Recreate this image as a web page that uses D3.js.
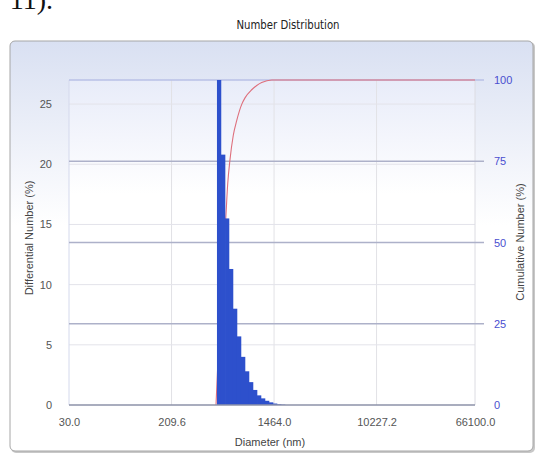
<!DOCTYPE html>
<html>
<head>
<meta charset="utf-8">
<script src="https://cdn.jsdelivr.net/npm/d3@7"></script>
<style>
  body { margin: 0; background: #fff; }
  svg { display: block; }
  .tick text { font-family: "Liberation Sans", Arial, sans-serif; }
</style>
</head>
<body>
<svg id="chart" width="538" height="453"></svg>
<script>
// values
var xTicks = [30.0, 209.6, 1464.0, 10227.2, 66100.0];
var xTickLabels = ["30.0", "209.6", "1464.0", "10227.2", "66100.0"];
var leftTicks = [0, 5, 10, 15, 20, 25];
var rightTicks = [0, 25, 50, 75, 100];

// histogram bins (nm) : lower edges + last upper edge
var binEdges = [496, 535, 578, 623, 672, 725, 782, 844, 910, 982, 1060, 1143, 1233, 1331, 1436, 1549, 1671, 1802];
var binValues = [27.0, 20.8, 15.5, 11.3, 8.0, 5.7, 4.0, 2.8, 1.9, 1.25, 0.8, 0.55, 0.35, 0.22, 0.12, 0.06, 0.03];

// cumulative curve
var cumSizes = [487, 506, 525, 551, 585, 608, 635, 676, 721, 793, 844, 958, 1054, 1158, 1400, 66100];
var cumValues = [0, 14, 30, 45, 57, 68, 75.5, 83, 87.5, 92.5, 94.5, 97, 98.3, 99.2, 100, 100];

var svg = d3.select("#chart");
var m = { left: 69, right: 475, top: 80, bottom: 405 };

var x = d3.scaleLog().domain([30, 66100]).range([m.left, m.right]);
var yL = d3.scaleLinear().domain([0, 27]).range([m.bottom, m.top]);
var yR = d3.scaleLinear().domain([0, 100]).range([m.bottom, m.top]);

var defs = svg.append("defs");
var g1 = defs.append("linearGradient").attr("id", "panelGrad")
  .attr("x1", 0).attr("y1", 0).attr("x2", 0).attr("y2", 1);
g1.append("stop").attr("offset", "0%").attr("stop-color", "#d9e0f2");
g1.append("stop").attr("offset", "45%").attr("stop-color", "#ffffff");
g1.append("stop").attr("offset", "100%").attr("stop-color", "#ffffff");
var g2 = defs.append("linearGradient").attr("id", "plotGrad")
  .attr("x1", 0).attr("y1", 0).attr("x2", 0).attr("y2", 1);
g2.append("stop").attr("offset", "0%").attr("stop-color", "#e8ecf9");
g2.append("stop").attr("offset", "35%").attr("stop-color", "#ffffff");
g2.append("stop").attr("offset", "100%").attr("stop-color", "#ffffff");

// bit of document text cut off at top (as in the source)
svg.append("text")
  .attr("x", 53).attr("y", 9)
  .attr("text-anchor", "end")
  .attr("font-family", "Liberation Serif, serif")
  .attr("font-size", 28)
  .attr("fill", "#111")
  .text("11).");

// title
svg.append("text")
  .attr("x", 288).attr("y", 29)
  .attr("text-anchor", "middle")
  .attr("font-family", "Liberation Sans Narrow, DejaVu Sans Condensed, sans-serif")
  .attr("font-size", 13)
  .attr("textLength", 103)
  .attr("lengthAdjust", "spacingAndGlyphs")
  .attr("fill", "#222")
  .text("Number Distribution");

// panel
svg.append("rect")
  .attr("x", 11).attr("y", 42).attr("width", 524).attr("height", 411)
  .attr("rx", 5)
  .attr("fill", "#c8c8c8");
svg.append("rect")
  .attr("x", 10).attr("y", 41).attr("width", 523).attr("height", 410)
  .attr("rx", 5)
  .attr("fill", "url(#panelGrad)")
  .attr("stroke", "#a6a6a6")
  .attr("stroke-width", 1);

// plot area
svg.append("rect")
  .attr("x", m.left).attr("y", m.top)
  .attr("width", m.right - m.left).attr("height", m.bottom - m.top)
  .attr("fill", "url(#plotGrad)");

// vertical grid
svg.append("g").selectAll("line")
  .data(xTicks.slice(1, -1)).enter().append("line")
  .attr("x1", function(d) { return x(d); })
  .attr("x2", function(d) { return x(d); })
  .attr("y1", m.top).attr("y2", m.bottom)
  .attr("stroke", "#e2e2e6").attr("stroke-width", 1);

// light grid for left axis
svg.append("g").selectAll("line")
  .data(leftTicks.slice(1)).enter().append("line")
  .attr("x1", m.left).attr("x2", m.right)
  .attr("y1", function(d) { return yL(d); })
  .attr("y2", function(d) { return yL(d); })
  .attr("stroke", "#e3e3ea").attr("stroke-width", 1);

// plot borders
svg.append("line").attr("x1", m.right).attr("x2", m.right)
  .attr("y1", m.top).attr("y2", m.bottom)
  .attr("stroke", "#dcdce2");
svg.append("line").attr("x1", m.left).attr("x2", m.left)
  .attr("y1", m.top).attr("y2", m.bottom)
  .attr("stroke", "#d4d9ec");

// darker grid for right axis
svg.append("g").selectAll("line")
  .data(rightTicks.slice(1)).enter().append("line")
  .attr("x1", m.left).attr("x2", 484)
  .attr("y1", function(d) { return yR(d); })
  .attr("y2", function(d) { return yR(d); })
  .attr("stroke", function(d) { return d == 100 ? "#b9c1e6" : "#adb1c9"; })
  .attr("stroke-width", 1.3);

// cumulative curve
var line = d3.line()
  .x(function(d, i) { return x(cumSizes[i]); })
  .y(function(d) { return yR(d); })
  .curve(d3.curveMonotoneX);
svg.append("path")
  .attr("d", line(cumValues))
  .attr("fill", "none")
  .attr("stroke", "#de6f7c")
  .attr("stroke-width", 1.1);

// bars
svg.append("g").selectAll("rect")
  .data(binValues).enter().append("rect")
  .attr("x", function(d, i) { return x(binEdges[i]); })
  .attr("width", function(d, i) { return x(binEdges[i + 1]) - x(binEdges[i]) + 0.3; })
  .attr("y", function(d) { return yL(d); })
  .attr("height", function(d) { return m.bottom - yL(d); })
  .attr("fill", "#2d50cc");

// bottom axis line
svg.append("line").attr("x1", m.left).attr("x2", m.right)
  .attr("y1", m.bottom).attr("y2", m.bottom)
  .attr("stroke", "#8c92a8").attr("stroke-width", 1.3);

// axes
var ax = svg.append("g").attr("transform", "translate(0," + (m.bottom + 10) + ")")
  .call(d3.axisBottom(x).tickValues(xTicks).tickSize(0)
    .tickFormat(function(d, i) { return xTickLabels[i]; }));
ax.select(".domain").remove();
ax.selectAll("text").attr("font-size", 11).attr("fill", "#555");

var al = svg.append("g").attr("transform", "translate(" + (m.left - 14) + ",0)")
  .call(d3.axisLeft(yL).tickValues(leftTicks).tickSize(0));
al.select(".domain").remove();
al.selectAll("text").attr("font-size", 11).attr("fill", "#555");

var ar = svg.append("g").attr("transform", "translate(" + 491 + ",0)")
  .call(d3.axisRight(yR).tickValues(rightTicks).tickSize(0));
ar.select(".domain").remove();
ar.selectAll("text").attr("font-size", 11).attr("fill", "#4a4ed0");

// axis titles
svg.append("text")
  .attr("transform", "translate(33," + 238 + ") rotate(-90)")
  .attr("text-anchor", "middle")
  .attr("font-family", "Liberation Sans, Arial, sans-serif")
  .attr("font-size", 11).attr("fill", "#444")
  .text("Differential Number (%)");
svg.append("text")
  .attr("transform", "translate(524," + 242 + ") rotate(-90)")
  .attr("text-anchor", "middle")
  .attr("font-family", "Liberation Sans, Arial, sans-serif")
  .attr("font-size", 11).attr("fill", "#444")
  .text("Cumulative Number (%)");
svg.append("text")
  .attr("x", 270).attr("y", 446)
  .attr("text-anchor", "middle")
  .attr("font-family", "Liberation Sans, Arial, sans-serif")
  .attr("font-size", 11).attr("fill", "#444")
  .text("Diameter (nm)");
</script>
</body>
</html>
